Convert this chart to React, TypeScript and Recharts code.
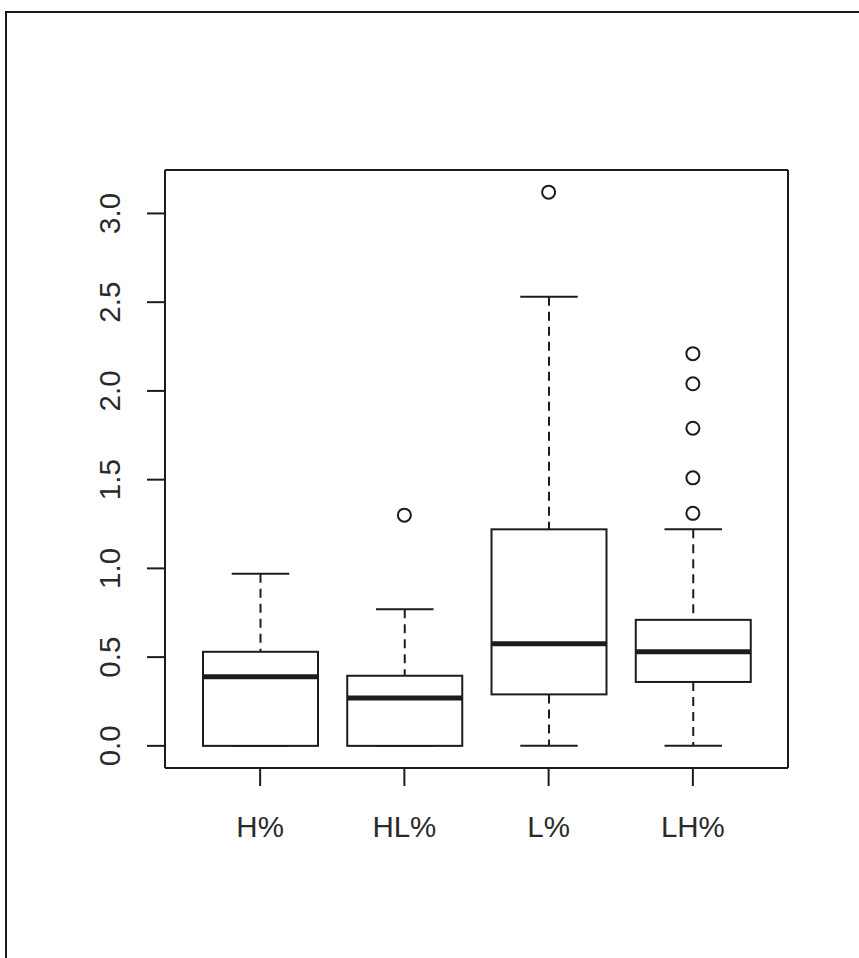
import React from 'react';
import { ComposedChart, Bar, Scatter, XAxis, YAxis, CartesianGrid } from 'recharts';

// five-number summaries per group
const categories = ['H%', 'HL%', 'L%', 'LH%'];
const lowerWhisker = [0, 0, 0, 0];
const lowerQuartile = [0, 0, 0.29, 0.36];
const medians = [0.39, 0.27, 0.575, 0.53];
const upperQuartile = [0.53, 0.395, 1.22, 0.71];
const upperWhisker = [0.97, 0.77, 2.53, 1.22];
const outliers: number[][] = [[], [1.3], [3.12], [1.31, 1.51, 1.79, 2.04, 2.21]];

const yTicks = [0, 0.5, 1, 1.5, 2, 2.5, 3];

const boxData = categories.map((name, i) => ({
  name,
  min: lowerWhisker[i],
  q1: lowerQuartile[i],
  median: medians[i],
  q3: upperQuartile[i],
  max: upperWhisker[i],
}));

const outlierData = categories.flatMap((name, i) => outliers[i].map((value) => ({ name, value })));

// R-style axis range: data extent padded by 4% on each side
const allValues = [...lowerWhisker, ...upperWhisker, ...outliers.flat()];
const dataMin = Math.min(...allValues);
const dataMax = Math.max(...allValues);
const pad = (dataMax - dataMin) * 0.04;

const INK = '#1c1c1c';
const FONT = '"Liberation Sans", Arial, sans-serif';

function BoxShape(props: any) {
  const { x, y, width, height, payload } = props;
  const { min, q1, median, q3, max } = payload;
  const k = height / (max - min);
  const py = (v: number) => y + (max - v) * k;
  const cx = x + width / 2;
  const cap = width / 4;
  return (
    <g>
      <line x1={cx} x2={cx} y1={py(max)} y2={py(q3)} stroke={INK} strokeWidth={2} strokeDasharray="9 6" />
      <line x1={cx} x2={cx} y1={py(q1)} y2={py(min)} stroke={INK} strokeWidth={2} strokeDasharray="9 6" />
      <line x1={cx - cap} x2={cx + cap} y1={py(max)} y2={py(max)} stroke={INK} strokeWidth={2} />
      <line x1={cx - cap} x2={cx + cap} y1={py(min)} y2={py(min)} stroke={INK} strokeWidth={2} />
      <rect x={x} y={py(q3)} width={width} height={py(q1) - py(q3)} fill="#fff" stroke={INK} strokeWidth={2} />
      <line x1={x} x2={x + width} y1={py(median)} y2={py(median)} stroke={INK} strokeWidth={5} />
    </g>
  );
}

function OutlierShape(props: any) {
  const { cx, cy } = props;
  if (cx == null || cy == null) return null;
  return <circle cx={cx} cy={cy} r={6.5} fill="none" stroke={INK} strokeWidth={2} />;
}

function YTick(props: any) {
  const { x, y, payload } = props;
  const cx = x - 35;
  return (
    <text
      x={cx}
      y={y}
      transform={`rotate(-90, ${cx}, ${y})`}
      textAnchor="middle"
      dominantBaseline="central"
      fontFamily={FONT}
      fontSize={29.5}
      fill="#2a2a2a"
    >
      {payload.value.toFixed(1)}
    </text>
  );
}

function XTick(props: any) {
  const { x, y, payload } = props;
  return (
    <text x={x} y={y + 49} textAnchor="middle" fontFamily={FONT} fontSize={29.5} fill="#2a2a2a">
      {payload.value}
    </text>
  );
}

export default function App() {
  return (
    <div style={{ position: 'absolute', left: 0, top: 0, width: 859, height: 958, background: '#fff', overflow: 'hidden' }}>
      {/* outer frame */}
      <div
        style={{
          position: 'absolute',
          left: 5,
          top: 11,
          width: 860,
          height: 960,
          borderLeft: `2px solid ${INK}`,
          borderTop: `2px solid ${INK}`,
        }}
      />
      <div style={{ position: 'absolute', left: 0, top: 0 }}>
        <ComposedChart width={859} height={958} data={boxData} margin={{ top: 170, right: 71, bottom: 120, left: 0 }}>
          {/* top and right edges of the plot box */}
          <CartesianGrid
            stroke={INK}
            strokeWidth={2}
            horizontalCoordinatesGenerator={({ offset }: any) => [offset.top]}
            verticalCoordinatesGenerator={({ offset }: any) => [offset.left + offset.width]}
          />
          <XAxis
            dataKey="name"
            type="category"
            allowDuplicatedCategory={false}
            padding={{ left: 23, right: 23 }}
            height={70}
            stroke={INK}
            strokeWidth={2}
            tickSize={18}
            tickLine={{ stroke: INK, strokeWidth: 2 }}
            tick={<XTick />}
            interval={0}
          />
          <YAxis
            type="number"
            domain={[dataMin - pad, dataMax + pad]}
            ticks={yTicks}
            width={165}
            stroke={INK}
            strokeWidth={2}
            tickSize={18}
            tickLine={{ stroke: INK, strokeWidth: 2 }}
            tick={<YTick />}
            interval={0}
            allowDataOverflow
          />
          <Bar
            dataKey={(d: any) => [d.min, d.max]}
            barSize={115}
            shape={<BoxShape />}
            isAnimationActive={false}
          />
          <Scatter data={outlierData} dataKey="value" shape={<OutlierShape />} isAnimationActive={false} />
        </ComposedChart>
      </div>
    </div>
  );
}
